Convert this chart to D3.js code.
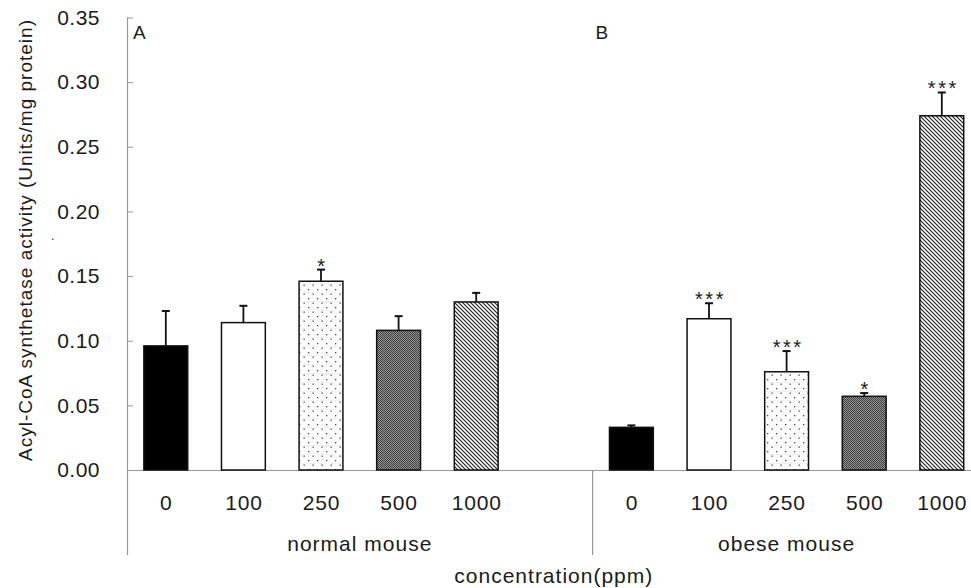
<!DOCTYPE html>
<html>
<head>
<meta charset="utf-8">
<script src="https://cdn.jsdelivr.net/npm/d3@7"></script>
<style>
  body { margin: 0; background: #fff; }
  text { font-family: "Liberation Sans", Arial, sans-serif; fill: #1a1a1a; }
</style>
</head>
<body>
<div id="vis"></div>
<script>
// values (Units/mg protein)
var concentrations = ["0", "100", "250", "500", "1000"];
var groups = ["normal mouse", "obese mouse"];
var panelLetters = ["A", "B"];
var normalMeans = [0.096, 0.114, 0.146, 0.108, 0.130];
var normalErr = [0.027, 0.013, 0.009, 0.011, 0.007];
var normalStars = ["", "", "*", "", ""];
var obeseMeans = [0.033, 0.117, 0.076, 0.057, 0.274];
var obeseErr = [0.0015, 0.012, 0.016, 0.0025, 0.018];
var obeseStars = ["", "***", "***", "*", "***"];
var yTicks = [0, 0.05, 0.10, 0.15, 0.20, 0.25, 0.30, 0.35];

// fill per concentration
var fills = ["#000", "#fff", "url(#dots)", "url(#checker)", "url(#diag)"];

// build rows: 5 normal, one empty slot, 5 obese
var rows = [];
concentrations.forEach(function(c, i) {
  rows.push({key: "n" + i, label: c, mean: normalMeans[i], err: normalErr[i], star: normalStars[i], fill: fills[i]});
});
rows.push({key: "gap", label: "", mean: null});
concentrations.forEach(function(c, i) {
  rows.push({key: "o" + i, label: c, mean: obeseMeans[i], err: obeseErr[i], star: obeseStars[i], fill: fills[i]});
});

var W = 971, H = 588;
var left = 127, baseY = 470, topY = 17.5, slot = 77.6;

var svg = d3.select("#vis").append("svg")
  .attr("width", W)
  .attr("height", H);

// patterns
var defs = svg.append("defs");
var dots = defs.append("pattern").attr("id", "dots")
  .attr("patternUnits", "userSpaceOnUse").attr("width", 9).attr("height", 9);
dots.append("rect").attr("width", 9).attr("height", 9).attr("fill", "#fff");
dots.append("rect").attr("x", 0).attr("y", 4.5).attr("width", 9).attr("height", 0.5).attr("fill", "#e6e6e6");
dots.append("rect").attr("x", 2).attr("y", 1).attr("width", 1.3).attr("height", 1.3).attr("fill", "#444");
dots.append("rect").attr("x", 6.5).attr("y", 5.5).attr("width", 1.3).attr("height", 1.3).attr("fill", "#444");

var checker = defs.append("pattern").attr("id", "checker")
  .attr("patternUnits", "userSpaceOnUse").attr("width", 2).attr("height", 2);
checker.append("rect").attr("width", 2).attr("height", 2).attr("fill", "#999");
checker.append("rect").attr("width", 1).attr("height", 1).attr("fill", "#3a3a3a");
checker.append("rect").attr("x", 1).attr("y", 1).attr("width", 1).attr("height", 1).attr("fill", "#3a3a3a");

var diag = defs.append("pattern").attr("id", "diag")
  .attr("patternUnits", "userSpaceOnUse").attr("width", 4).attr("height", 4);
diag.append("rect").attr("width", 4).attr("height", 4).attr("fill", "#fff");
diag.append("path").attr("d", "M-1,-1 L5,5 M-1,3 L1,5 M3,-1 L5,1")
  .attr("stroke", "#222").attr("stroke-width", 1.2);

// scales
var xScale = d3.scaleBand()
  .domain(rows.map(function(d) { return d.key; }))
  .range([left, left + slot * rows.length])
  .paddingInner(0.435)
  .paddingOuter(0.2175);

var yScale = d3.scaleLinear()
  .domain([0, 0.35])
  .range([baseY, topY]);

// y axis
var yAxis = d3.axisLeft(yScale)
  .tickValues(yTicks)
  .tickFormat(d3.format(".2f"))
  .tickSizeInner(-6)
  .tickSizeOuter(0)
  .tickPadding(27);

var yG = svg.append("g")
  .attr("transform", "translate(" + left + ",0)")
  .call(yAxis);
yG.select(".domain").remove();
yG.selectAll(".tick line").attr("stroke", "#999");
yG.selectAll(".tick text")
  .style("font-size", "21px")
  .style("letter-spacing", "0.5px")
  .attr("fill", "#1a1a1a");

// axis lines
svg.append("line")
  .attr("x1", left + 0.5).attr("x2", left + 0.5)
  .attr("y1", topY).attr("y2", 555)
  .attr("stroke", "#999").attr("stroke-width", 1.2);
svg.append("line")
  .attr("x1", left).attr("x2", W)
  .attr("y1", baseY + 0.5).attr("y2", baseY + 0.5)
  .attr("stroke", "#999").attr("stroke-width", 1.2);
// separator between groups
var sepX = xScale("o0") - xScale.step() * xScale.paddingInner() / 2;
svg.append("line")
  .attr("x1", sepX).attr("x2", sepX)
  .attr("y1", baseY).attr("y2", 555)
  .attr("stroke", "#999").attr("stroke-width", 1.2);

var data = rows.filter(function(d) { return d.mean !== null; });

// bars
svg.selectAll("rect.bar").data(data).enter().append("rect")
  .attr("class", "bar")
  .attr("x", function(d) { return xScale(d.key); })
  .attr("y", function(d) { return yScale(d.mean); })
  .attr("width", xScale.bandwidth())
  .attr("height", function(d) { return baseY - yScale(d.mean); })
  .attr("fill", function(d) { return d.fill; })
  .attr("stroke", "#111")
  .attr("stroke-width", 1.5);

// error bars (upper only)
var eb = svg.selectAll("g.err").data(data).enter().append("g").attr("class", "err");
eb.append("line")
  .attr("x1", function(d) { return xScale(d.key) + xScale.bandwidth() / 2; })
  .attr("x2", function(d) { return xScale(d.key) + xScale.bandwidth() / 2; })
  .attr("y1", function(d) { return yScale(d.mean); })
  .attr("y2", function(d) { return yScale(d.mean + d.err); })
  .attr("stroke", "#111").attr("stroke-width", 1.8);
eb.append("line")
  .attr("x1", function(d) { return xScale(d.key) + xScale.bandwidth() / 2 - 4; })
  .attr("x2", function(d) { return xScale(d.key) + xScale.bandwidth() / 2 + 4; })
  .attr("y1", function(d) { return yScale(d.mean + d.err); })
  .attr("y2", function(d) { return yScale(d.mean + d.err); })
  .attr("stroke", "#111").attr("stroke-width", 2);

// significance stars
svg.selectAll("text.star").data(data.filter(function(d) { return d.star; })).enter().append("text")
  .attr("class", "star")
  .attr("x", function(d) { return xScale(d.key) + xScale.bandwidth() / 2 + 1.5; })
  .attr("y", function(d) { return yScale(d.mean + d.err) + 3; })
  .attr("text-anchor", "middle")
  .style("font-size", "20px")
  .style("letter-spacing", "2.5px")
  .text(function(d) { return d.star; });

// concentration labels
svg.selectAll("text.conc").data(data).enter().append("text")
  .attr("class", "conc")
  .attr("x", function(d) { return xScale(d.key) + xScale.bandwidth() / 2 + 0.5; })
  .attr("y", 510)
  .attr("text-anchor", "middle")
  .style("font-size", "21px")
  .style("letter-spacing", "0.8px")
  .text(function(d) { return d.label; });

// group labels
var groupCenters = [(left + sepX) / 2, (xScale("o0") + xScale("o4") + xScale.bandwidth()) / 2];
svg.selectAll("text.group").data(groups).enter().append("text")
  .attr("class", "group")
  .attr("x", function(d, i) { return groupCenters[i]; })
  .attr("y", 551)
  .attr("text-anchor", "middle")
  .style("font-size", "21px")
  .style("letter-spacing", "1px")
  .text(function(d) { return d; });

// panel letters
var letterX = [left + 6, sepX + 3];
svg.selectAll("text.panel").data(panelLetters).enter().append("text")
  .attr("class", "panel")
  .attr("x", function(d, i) { return letterX[i]; })
  .attr("y", 39)
  .style("font-size", "19px")
  .text(function(d) { return d; });

// axis titles
svg.append("text")
  .attr("x", (left + left + slot * rows.length) / 2).attr("y", 583)
  .attr("text-anchor", "middle")
  .style("font-size", "21px")
  .style("letter-spacing", "1px")
  .text("concentration(ppm)");

svg.append("text")
  .attr("transform", "translate(32,240) rotate(-90)")
  .attr("text-anchor", "middle")
  .style("font-size", "19px")
  .style("letter-spacing", "1px")
  .text("Acyl-CoA synthetase activity (Units/mg protein)");

// stray dot on the original figure
svg.append("text")
  .attr("x", 51).attr("y", 240)
  .style("font-size", "12px")
  .text(".");
</script>
</body>
</html>
